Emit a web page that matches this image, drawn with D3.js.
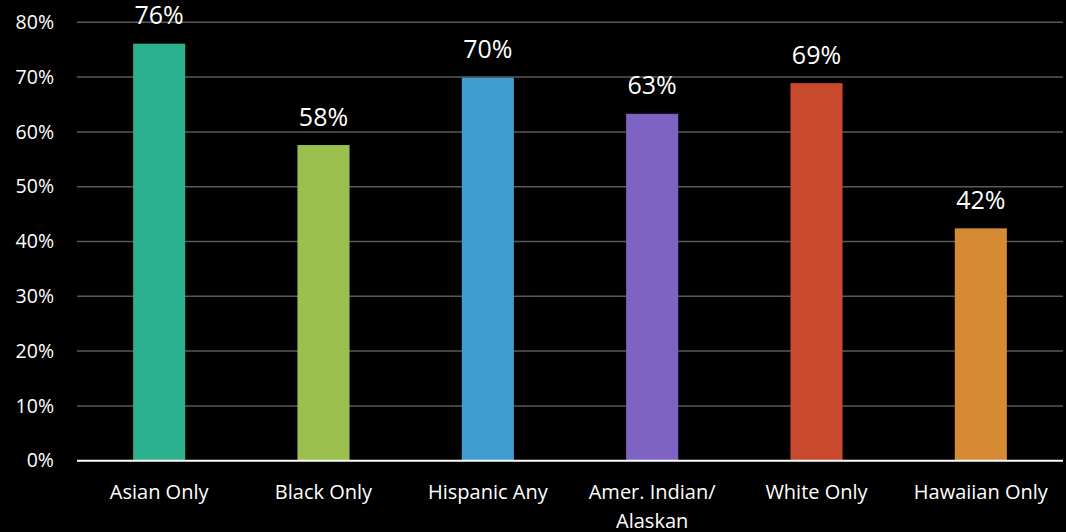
<!DOCTYPE html>
<html>
<head>
<meta charset="utf-8">
<script src="https://cdn.jsdelivr.net/npm/d3@7"></script>
<style>
  html, body { margin: 0; padding: 0; background: #000; }
  svg { display: block; }
  text { font-family: "Open Sans", sans-serif; fill: #fff; }
</style>
</head>
<body>
<svg id="chart" width="1066" height="532"></svg>
<script>
const categories = ["Asian Only", "Black Only", "Hispanic Any", "Amer. Indian/\nAlaskan", "White Only", "Hawaiian Only"];
const values = [76.1, 57.6, 69.9, 63.3, 68.9, 42.4];
const colors = ["#2BB18E", "#9BC04D", "#3F9DD2", "#7E62C4", "#C8492E", "#D58A33"];
const yTicks = [0, 10, 20, 30, 40, 50, 60, 70, 80];

const svg = d3.select("#chart");
const W = 1066, H = 532;
const mLeft = 77, mRight = 1063, mTop = 22.3, mBottom = 460.7;

const x = d3.scaleBand()
  .domain(d3.range(categories.length))
  .range([mLeft, mRight])
  .paddingInner(0.683)
  .paddingOuter(0.3415);

const y = d3.scaleLinear().domain([0, 80]).range([mBottom, mTop]);

svg.append("rect").attr("width", W).attr("height", H).attr("fill", "#000");

// gridlines
svg.append("g").selectAll("line")
  .data(yTicks.filter(d => d > 0))
  .join("line")
  .attr("x1", mLeft).attr("x2", mRight)
  .attr("y1", d => y(d)).attr("y2", d => y(d))
  .attr("stroke", "#5a5a5a").attr("stroke-width", 1.5);

// y axis labels
const yAxis = d3.axisLeft(y).tickValues(yTicks).tickFormat(d => d + "%").tickSize(0).tickPadding(23);
const ya = svg.append("g").attr("transform", `translate(${mLeft},0)`).call(yAxis);
ya.select(".domain").remove();
ya.selectAll("text").style("font-size", "19.5px").attr("fill", "#fff").style("font-family", "'Open Sans', sans-serif");

// bars
svg.append("g").selectAll("rect")
  .data(values)
  .join("rect")
  .attr("x", (d, i) => x(i))
  .attr("width", x.bandwidth())
  .attr("y", d => y(d))
  .attr("height", d => y(0) - y(d))
  .attr("fill", (d, i) => colors[i]);

// value labels
svg.append("g").selectAll("text")
  .data(values)
  .join("text")
  .attr("x", (d, i) => x(i) + x.bandwidth() / 2)
  .attr("y", d => y(d) - 19.5)
  .attr("text-anchor", "middle")
  .style("font-size", "25px")
  .text(d => Math.round(d) + "%");

// x axis baseline
svg.append("line")
  .attr("x1", mLeft).attr("x2", mRight)
  .attr("y1", y(0)).attr("y2", y(0))
  .attr("stroke", "#fff").attr("stroke-width", 2);

// category labels
const cl = svg.append("g").selectAll("text")
  .data(categories)
  .join("text")
  .attr("x", (d, i) => x(i) + x.bandwidth() / 2)
  .attr("y", 498.5)
  .attr("text-anchor", "middle")
  .style("font-size", "20px");
cl.each(function(d) {
  const t = d3.select(this);
  d.split("\n").forEach((line, k) => {
    t.append("tspan")
      .attr("x", t.attr("x"))
      .attr("dy", k === 0 ? 0 : 29)
      .text(line);
  });
});
</script>
</body>
</html>
